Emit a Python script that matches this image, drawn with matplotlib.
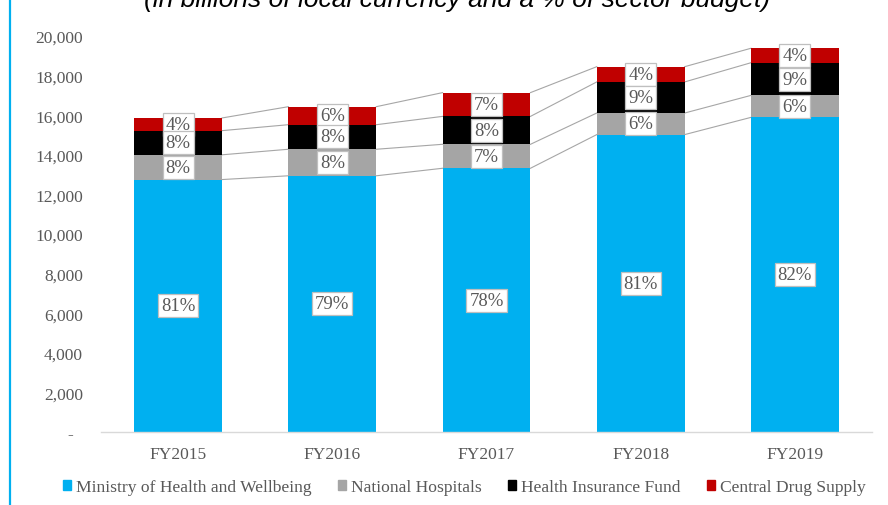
import matplotlib.pyplot as plt
from matplotlib.patches import Patch, Rectangle
from matplotlib.ticker import FuncFormatter
import numpy as np

plt.rcParams['font.family'] = ['Liberation Serif', 'DejaVu Serif']

years = ['FY2015', 'FY2016', 'FY2017', 'FY2018', 'FY2019']
series = ['Ministry of Health and Wellbeing', 'National Hospitals',
          'Health Insurance Fund', 'Central Drug Supply']
ministry = [12750, 12940, 13320, 15020, 15890]
hospitals = [1250, 1340, 1210, 1090, 1110]
insurance = [1220, 1240, 1410, 1570, 1650]
drugs = [640, 910, 1200, 770, 730]
pct_labels = [
    ['81%', '79%', '78%', '81%', '82%'],
    ['8%', '8%', '7%', '6%', '6%'],
    ['8%', '8%', '8%', '9%', '9%'],
    ['4%', '6%', '7%', '4%', '4%'],
]
colors = ['#00B0F0', '#A5A5A5', '#000000', '#C00000']
label_z = [5, 5, 6, 4]
TXT = '#595959'

fig = plt.figure(figsize=(8.88, 5.06), dpi=100)
ax = fig.add_axes([101 / 888, 1 - 433 / 506, 771 / 888, 396 / 506])

x = np.arange(len(years))
width = 0.57
values = [ministry, hospitals, insurance, drugs]
bottom = np.zeros(len(years))
for vals, col, labs, z in zip(values, colors, pct_labels, label_z):
    vals = np.array(vals, dtype=float)
    ax.bar(x, vals, width, bottom=bottom, color=col, zorder=2)
    top = bottom + vals
    # series lines between bars
    for i in range(len(years) - 1):
        ax.plot([x[i] + width / 2, x[i + 1] - width / 2], [top[i], top[i + 1]],
                color='#A6A6A6', lw=0.8, zorder=1)
    for i in range(len(years)):
        ax.text(x[i], bottom[i] + vals[i] / 2, labs[i], ha='center', va='center',
                fontsize=13.5, color=TXT, zorder=z,
                bbox=dict(boxstyle='square,pad=0.16', fc='white', ec='#BFBFBF', lw=0.9))
    bottom = top

ax.set_xlim(-0.5, len(years) - 0.5)
ax.set_ylim(0, 20000)
ax.set_yticks(np.arange(0, 20001, 2000))
ax.yaxis.set_major_formatter(FuncFormatter(lambda v, p: '-  ' if v == 0 else f'{v:,.0f}'))
ax.set_xticks(x)
ax.set_xticklabels(years)
ax.tick_params(axis='both', length=0, labelsize=12.5, labelcolor=TXT)
ax.tick_params(axis='y', pad=13)
ax.tick_params(axis='x', pad=10)
for s in ['top', 'right', 'left']:
    ax.spines[s].set_visible(False)
ax.spines['bottom'].set_color('#D9D9D9')
ax.spines['bottom'].set_linewidth(1.0)

handles = [Patch(color=c) for c in colors]
leg = fig.legend(handles, series, loc='center', bbox_to_anchor=(464 / 888, 1 - 488 / 506),
                 ncol=4, frameon=False, fontsize=12.6, handlelength=0.5, handleheight=0.5,
                 handletextpad=0.25, columnspacing=1.5)
for t in leg.get_texts():
    t.set_color(TXT)

fig.add_artist(Rectangle((10 / 888, -0.2), 1.2, 1.2 + 1 - 13 / 506, transform=fig.transFigure,
                         fill=False, ec='#00B0F0', lw=1.6, clip_on=False))
fig.text(457 / 888, 1 - 7 / 506, '(in billions of local currency and a % of sector budget)',
         ha='center', va='baseline', fontsize=19, style='italic',
         family=['Liberation Sans', 'DejaVu Sans'], color='black')

fig.savefig('out.png', dpi=100)
